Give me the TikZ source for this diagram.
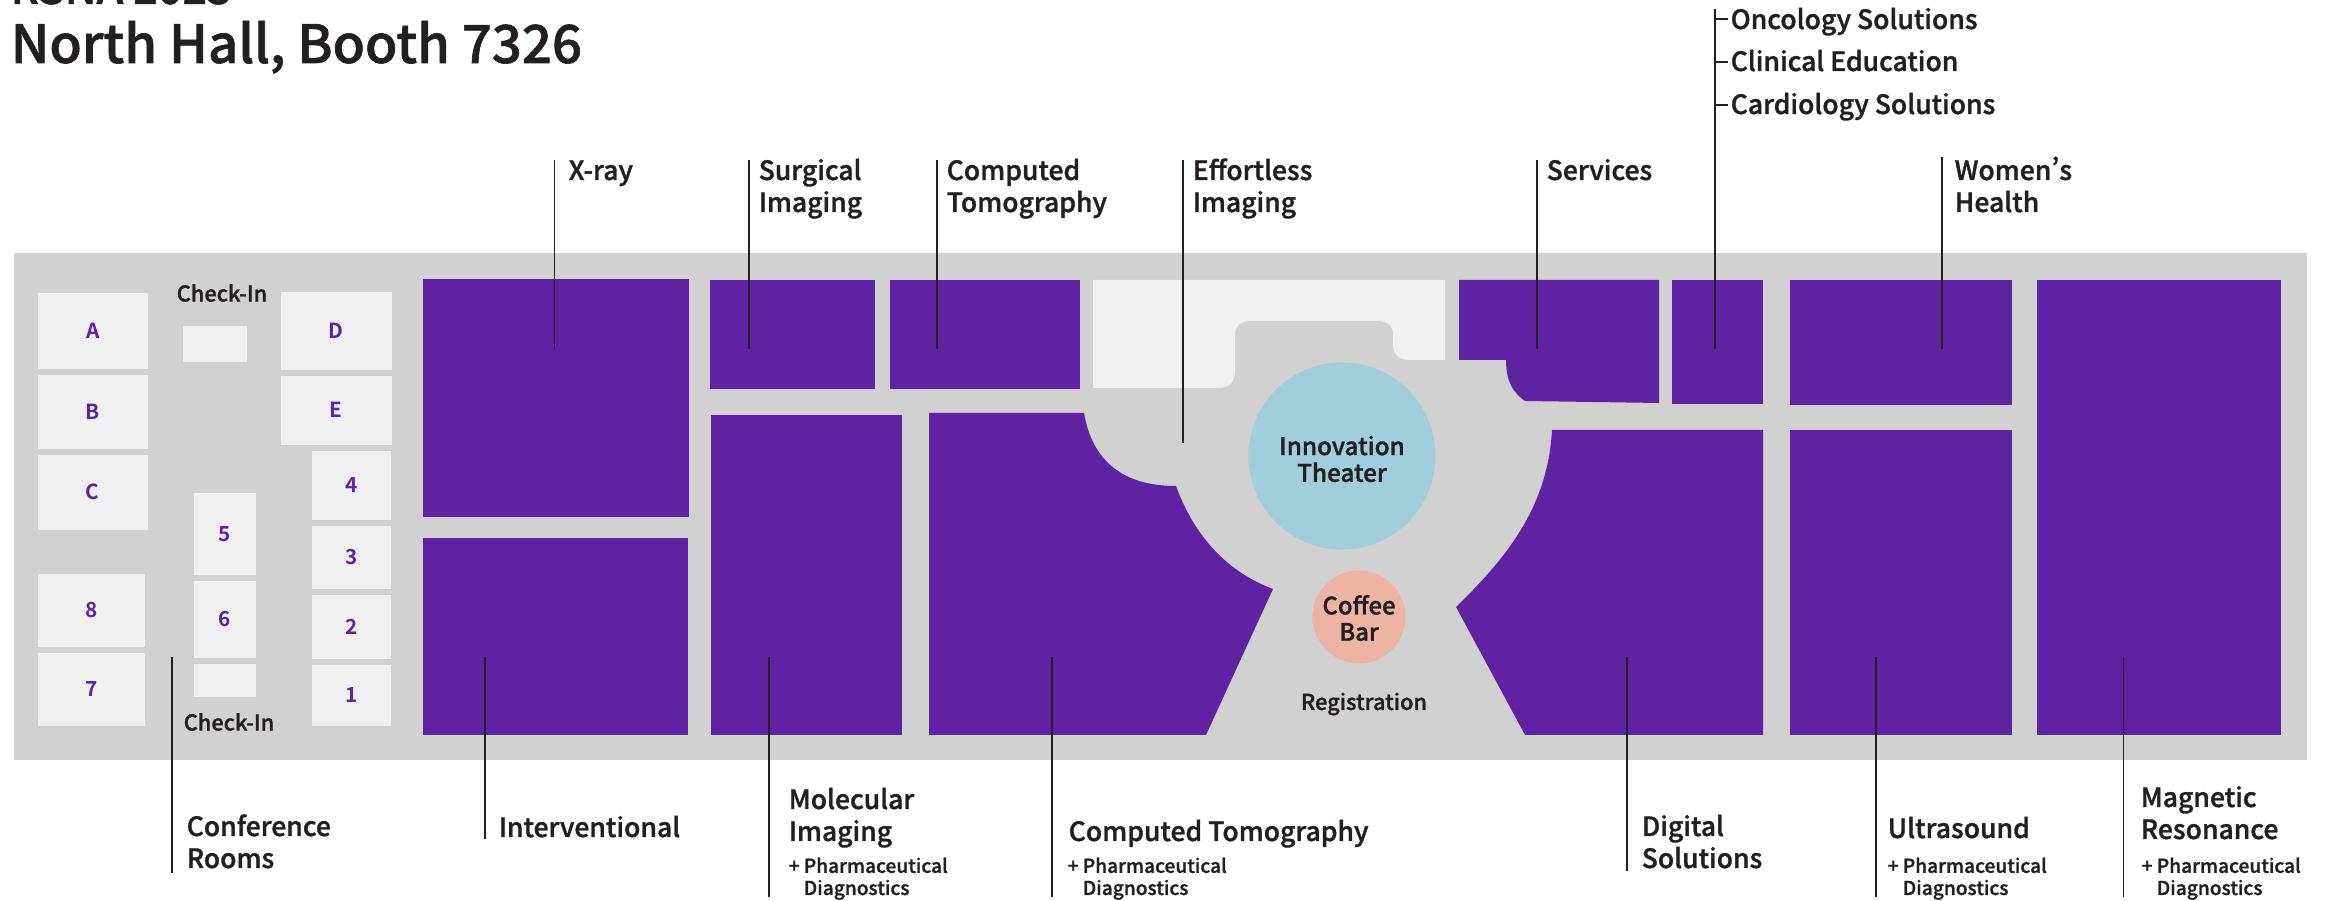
\documentclass[tikz,border=0pt]{standalone}
\usepackage{fontspec}
\setmainfont{Noto Sans CJK SC Medium}[FakeBold=1.2]
\newfontfamily\roomfont{Noto Sans CJK SC Bold}
\definecolor{hallgray}{HTML}{D1D1D1}
\definecolor{roomgray}{HTML}{F0F0F0}
\definecolor{standpurple}{HTML}{5E22A3}
\definecolor{inktext}{HTML}{231F20}
\definecolor{theaterblue}{HTML}{A0CEDB}
\definecolor{coffeepink}{HTML}{EDB4A4}
\newcommand{\pharmdiag}{\makebox[4.3pt][l]{+}Pharmaceutical\\\hspace*{4.3pt}Diagnostics}
\newcommand{\apos}{{\addfontfeature{RawFeature=+pwid}’}}
\begin{document}
\begin{tikzpicture}[x=0.01cm,y=-0.01cm]
    \tikzstyle{stand} = [fill=standpurple, draw=none]
    \tikzstyle{room} = [rectangle, fill=roomgray, anchor=north west, inner sep=0pt,
        text=standpurple, font=\roomfont\fontsize{5.9}{7}\selectfont]
    \tikzstyle{lead} = [draw=inktext, line width=0.3pt]
    \tikzstyle{lab} = [anchor=base west, inner sep=0pt, align=left, text=inktext,
        font=\fontsize{7.55}{9.1}\selectfont]
    \tikzstyle{sublab} = [anchor=base west, inner sep=0pt, align=left, text=inktext,
        font=\fontsize{5.45}{6.3}\selectfont]
    \tikzstyle{small} = [inner sep=0pt, align=center, text=inktext,
        font=\fontsize{6.2}{7.5}\selectfont]

    \clip (0,0) rectangle (2327,901);

    % the hall
    \fill[hallgray] (14,253) rectangle (2307,760);

    % stands
    \fill[stand] (423,279) rectangle (689,517);
    \fill[stand] (423,538) rectangle (688,735);
    \fill[stand] (710,280) rectangle (875,389);
    \fill[stand] (890,280) rectangle (1080,389);
    \fill[stand] (711,415) rectangle (902,735);
    \fill[stand] (1672,280) rectangle (1763,404);
    \fill[stand] (1790,280) rectangle (2012,405);
    \fill[stand] (1790,430) rectangle (2012,735);
    \fill[stand] (2037,280) rectangle (2281,735);
    \fill[stand] (929,413) -- (1084,413)
        .. controls (1092,460) and (1122,486) .. (1176,486)
        .. controls (1192,530) and (1222,570) .. (1273,589)
        -- (1206,735) -- (929,735) -- cycle;
    \fill[stand] (1552,430) -- (1763,430) -- (1763,735) -- (1525,735) -- (1456,607)
        .. controls (1515,550) and (1548,500) .. cycle;
    \fill[stand] (1459,280) -- (1659,280) -- (1659,403) -- (1525,401)
        .. controls (1512,392) and (1506,380) .. (1506,360) -- (1459,360) -- cycle;

    % stage behind the theater
    \fill[roomgray] (1093,280) -- (1445,280) -- (1445,360) -- (1410,360)
        .. controls (1398,360) and (1393,354) .. (1393,344) -- (1393,335)
        .. controls (1393,326) and (1388,321) .. (1377,321) -- (1252,321)
        .. controls (1240,321) and (1235,326) .. (1235,335) -- (1235,370)
        .. controls (1235,382) and (1230,388) .. (1218,388) -- (1093,388) -- cycle;

    % rooms
    \node(rooma) [room, minimum width=1.10cm, minimum height=.76cm] at (37,292) {A};
    \node(roomb) [room, minimum width=1.10cm, minimum height=.74cm] at (37,374) {B};
    \node(roomc) [room, minimum width=1.10cm, minimum height=.75cm] at (37,454) {C};
    \node(room8) [room, minimum width=1.07cm, minimum height=.73cm] at (37,573) {8};
    \node(room7) [room, minimum width=1.07cm, minimum height=.73cm] at (37,652) {7};
    \node(roomd) [room, minimum width=1.11cm, minimum height=.78cm] at (280,291) {D};
    \node(roome) [room, minimum width=1.11cm, minimum height=.69cm] at (280,375) {E};
    \node(room4) [room, minimum width=.79cm, minimum height=.69cm] at (311,450) {4};
    \node(room3) [room, minimum width=.79cm, minimum height=.63cm] at (311,525) {3};
    \node(room2) [room, minimum width=.79cm, minimum height=.64cm] at (311,594) {2};
    \node(room1) [room, minimum width=.79cm, minimum height=.61cm] at (311,664) {1};
    \node(room5) [room, minimum width=.62cm, minimum height=.82cm] at (193,492) {5};
    \node(room6) [room, minimum width=.62cm, minimum height=.77cm] at (193,580) {6};
    \node(deskbottom) [room, minimum width=.62cm, minimum height=.33cm] at (193,663) {};
    \node(desktop) [room, minimum width=.64cm, minimum height=.36cm] at (182,325) {};

    \node(checktop) [small] at (222,293) {Check-In};
    \node(checkbottom) [small] at (229,722) {Check-In};

    % round areas
    \node(theater) [circle, fill=theaterblue, minimum size=1.87cm, inner sep=0pt] at (1342,456) {};
    \node(theatertext) [inner sep=0pt, align=center, text=inktext,
        font=\fontsize{6.9}{7.6}\selectfont] at (1342,459) {Innovation\\Theater};
    \node(coffee) [circle, fill=coffeepink, minimum size=.93cm, inner sep=0pt] at (1359,617) {};
    \node(coffeetext) [inner sep=0pt, align=center, text=inktext,
        font=\fontsize{6.8}{7.5}\selectfont] at (1359,618) {Coffee\\Bar};
    \node(registration) [small] at (1364,704) {Registration};

    % leader ends
    \coordinate (xraytop) at (554.5,160);       \coordinate (xrayend) at (554.5,349);
    \coordinate (surgtop) at (749,160);         \coordinate (surgend) at (749,349);
    \coordinate (cttop) at (937,160);           \coordinate (ctend) at (937,349);
    \coordinate (efftop) at (1183,160);         \coordinate (effend) at (1183,443);
    \coordinate (servtop) at (1537,160);        \coordinate (servend) at (1537,349);
    \coordinate (onctop) at (1715,9);           \coordinate (oncend) at (1715,349);
    \coordinate (womtop) at (1942,157);         \coordinate (womend) at (1942,349);
    \coordinate (confend) at (172,657);         \coordinate (confbot) at (172,873);
    \coordinate (intend) at (485,657);          \coordinate (intbot) at (485,839);
    \coordinate (molend) at (769,657);          \coordinate (molbot) at (769,897);
    \coordinate (ctlend) at (1052,657);         \coordinate (ctlbot) at (1052,897);
    \coordinate (digend) at (1627,657);         \coordinate (digbot) at (1627,871);
    \coordinate (ultend) at (1876,657);         \coordinate (ultbot) at (1876,897);
    \coordinate (mrend) at (2123,657);          \coordinate (mrbot) at (2123,897);
    \coordinate (oncjoin) at (1715,19);         \coordinate (onctick) at (1727.5,19);
    \coordinate (clinjoin) at (1715,62);        \coordinate (clintick) at (1727.5,62);
    \coordinate (cardjoin) at (1715,105);       \coordinate (cardtick) at (1727.5,105);

    \draw[lead] (xraytop) -- (xrayend);
    \draw[lead] (surgtop) -- (surgend);
    \draw[lead] (cttop) -- (ctend);
    \draw[lead] (efftop) -- (effend);
    \draw[lead] (servtop) -- (servend);
    \draw[lead] (onctop) -- (oncend);
    \draw[lead] (womtop) -- (womend);
    \draw[lead] (oncjoin) -- (onctick);
    \draw[lead] (clinjoin) -- (clintick);
    \draw[lead] (cardjoin) -- (cardtick);
    \draw[lead] (confend) -- (confbot);
    \draw[lead] (intend) -- (intbot);
    \draw[lead] (molend) -- (molbot);
    \draw[lead] (ctlend) -- (ctlbot);
    \draw[lead] (digend) -- (digbot);
    \draw[lead] (ultend) -- (ultbot);
    \draw[lead] (mrend) -- (mrbot);

    % title
    \node(showname) [lab, font=\fontsize{12.3}{16}\selectfont] at (10,4) {RSNA 2023};
    \node(booth) [lab, font=\fontsize{15}{16}\selectfont] at (10,63) {North Hall, Booth 7326};

    % labels, top row
    \node(xray) [lab] at (568,180) {X-ray};
    \node(surgical) [lab] at (758,212) {Surgical\\Imaging};
    \node(computedtop) [lab] at (946,212) {Computed\\Tomography};
    \node(effortless) [lab] at (1192,212) {Effortless\\Imaging};
    \node(services) [lab] at (1546,180) {Services};
    \node(womens) [lab] at (1954,212) {Women\apos s\\Health};
    \node(oncology) [lab] at (1730,29) {Oncology Solutions};
    \node(clinical) [lab] at (1730,71) {Clinical Education};
    \node(cardiology) [lab] at (1730,114) {Cardiology Solutions};

    % labels, bottom row
    \node(conference) [lab] at (186,868) {Conference\\Rooms};
    \node(interventional) [lab] at (498,837) {Interventional};
    \node(molecular) [lab] at (788,841) {Molecular\\Imaging};
    \node(molsub) [sublab] at (788,895) {\pharmdiag};
    \node(computedlow) [lab] at (1068,841) {Computed Tomography};
    \node(ctsub) [sublab] at (1067,895) {\pharmdiag};
    \node(digital) [lab] at (1641,868) {Digital\\Solutions};
    \node(ultrasound) [lab] at (1887,838) {Ultrasound};
    \node(ultsub) [sublab] at (1887,895) {\pharmdiag};
    \node(magnetic) [lab] at (2140,839) {Magnetic\\Resonance};
    \node(mrsub) [sublab] at (2141,895) {\pharmdiag};
\end{tikzpicture}
\end{document}
